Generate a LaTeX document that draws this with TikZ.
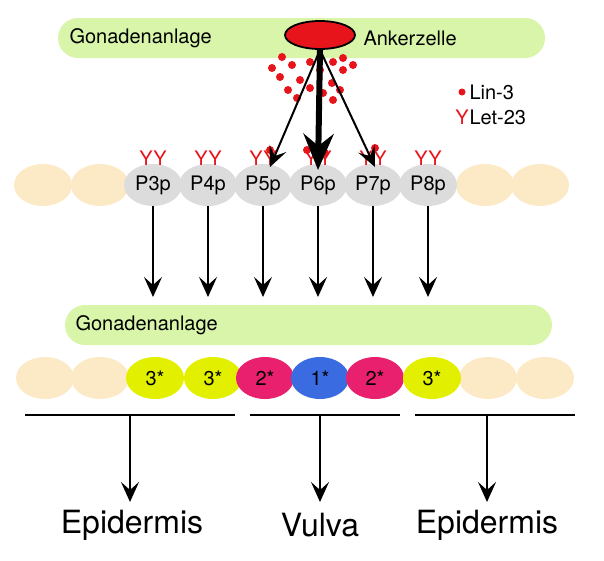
\documentclass[tikz,border=0pt]{standalone}
\usepackage{fontspec}
\setmainfont{TeX Gyre Heros}
\usetikzlibrary{arrows.meta,shapes.geometric}
\definecolor{gonade}{HTML}{D8F5A9}
\definecolor{beige}{HTML}{FCE9C6}
\definecolor{grau}{HTML}{DCDCDC}
\definecolor{gelb}{HTML}{E2F000}
\definecolor{pink}{HTML}{E8206E}
\definecolor{blau}{HTML}{3A6BE0}
\definecolor{lin}{HTML}{E8141C}
\tikzset{
  cell/.style={ellipse, minimum width=58pt, minimum height=42pt, inner sep=0pt, font=\fontsize{20}{20}\selectfont},
  band/.style={fill=gonade, rounded corners=20pt},
  txt/.style={font=\fontsize{20}{20}\selectfont},
  lindot/.style={fill=lin},
  pfeil/.style={-{Stealth[length=20pt,width=18pt,inset=8pt]}, line width=2pt},
}
\newcommand{\rez}[2]{\node[text=lin, font=\fontsize{20}{20}\selectfont] at (#1-7,#2) {Y};
  \node[text=lin, font=\fontsize{20}{20}\selectfont] at (#1+7,#2) {Y};}
\begin{document}
\begin{tikzpicture}[x=1pt,y=-1pt]
    \useasboundingbox (0,0) rectangle (604,560);
    % oben
    \fill[band] (58,18) rectangle (545,58);
    \node[anchor=west, txt] (gon1) at (66,38) {Gonadenanlage};
    \node[anchor=west, txt] (ank) at (360,38) {Ankerzelle};
    \node[ellipse, draw=black, line width=1.8pt, fill=lin, minimum width=70pt, minimum height=28pt] (anker) at (320,35) {};
    \foreach \x/\y in {282/57,272/68,292/65,280/77,300/80,288/90,297/98,310/62,320/70,310/88,323/93,332/83,333/100,340/90,333/62,343/58,353/65,343/70,270/150,307/150,325/153,375/148}
      \fill[lindot] (\x,\y) circle (4);
    % Legende
    \fill[lindot] (462,92) circle (3.5);
    \node[anchor=west, txt] (lin3) at (466,92) {Lin-3};
    \node[text=lin, font=\fontsize{20}{20}\selectfont] (ysym) at (462,117) {Y};
    \node[anchor=west, txt] (let23) at (466,117) {Let-23};
    % erste Reihe
    \foreach \x/\n in {43/b1,100/b2,485/b3,540/b4}
      \node[cell, fill=beige] (\n) at (\x,185) {};
    \foreach \x/\n in {153/3,208/4,263/5,318/6,373/7,428/8} {
      \node[cell, fill=grau] (p\n) at (\x,185) {P\n p};
      \rez{\x}{158}
      \coordinate (e\n) at (\x,297);
      \draw[pfeil] (p\n.south) -- (e\n);
    }
    \draw[pfeil] (anker.south) -- (270,167);
    \draw[pfeil] (anker.south) -- (375,167);
    \draw[-{Stealth[length=36pt,width=30pt,inset=12pt]}, line width=6pt] (anker.south) -- (318,170);
    % zweite Reihe
    \fill[band] (65,305) rectangle (552,345);
    \node[anchor=west, txt] (gon2) at (72,325) {Gonadenanlage};
    \foreach \x/\n in {45/c1,100/c2,488/c3,545/c4}
      \node[cell, fill=beige] (\n) at (\x,378) {};
    \node[cell, fill=gelb] (z1) at (155,378) {3*};
    \node[cell, fill=gelb] (z2) at (213,378) {3*};
    \node[cell, fill=pink] (z3) at (265,378) {2*};
    \node[cell, fill=blau] (z4) at (320,378) {1*};
    \node[cell, fill=pink] (z5) at (375,378) {2*};
    \node[cell, fill=gelb] (z6) at (432,378) {3*};
    % Schicksale
    \draw[line width=2pt] (25,415) -- (235,415);
    \draw[line width=2pt] (250,415) -- (400,415);
    \draw[line width=2pt] (415,415) -- (575,415);
    \node[font=\fontsize{32}{32}\selectfont] (epi1) at (132,525) {Epidermis};
    \node[font=\fontsize{32}{32}\selectfont] (vul) at (320,525) {Vulva};
    \node[font=\fontsize{32}{32}\selectfont] (epi2) at (487,525) {Epidermis};
    \foreach \x/\n in {130/epi1,320/vul,487/epi2}
      \draw[pfeil] (\x,415) -- (\x,502);
\end{tikzpicture}
\end{document}
